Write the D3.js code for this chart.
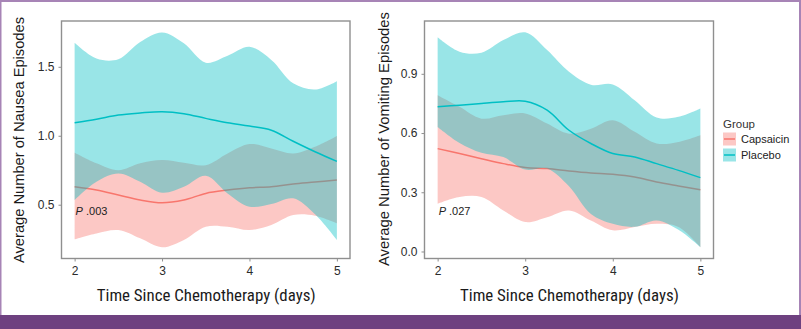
<!DOCTYPE html>
<html>
<head>
<meta charset="utf-8">
<script src="https://cdn.jsdelivr.net/npm/d3@7"></script>
<style>
  body { margin: 0; background: #fff; }
  svg { display: block; font-family: "Liberation Sans", Arial, sans-serif; }
</style>
</head>
<body>
<svg id="canvas"></svg>
<script>
// days on the x axis
const days = [2, 2.25, 2.5, 2.75, 3, 3.25, 3.5, 3.75, 4, 4.25, 4.5, 4.75, 5];

// nausea panel
const nauseaPlaceboMean = [1.094, 1.12, 1.15, 1.165, 1.174, 1.16, 1.126, 1.094, 1.07, 1.04, 0.96, 0.884, 0.814];
const nauseaPlaceboLow  = [0.534, 0.667, 0.727, 0.667, 0.587, 0.63, 0.71, 0.582, 0.486, 0.505, 0.546, 0.43, 0.244];
const nauseaPlaceboHigh = [1.674, 1.56, 1.555, 1.68, 1.749, 1.67, 1.53, 1.58, 1.645, 1.55, 1.38, 1.335, 1.396];
const nauseaCapsMean = [0.63, 0.606, 0.57, 0.534, 0.514, 0.534, 0.582, 0.606, 0.623, 0.63, 0.65, 0.664, 0.679];
const nauseaCapsLow  = [0.249, 0.292, 0.316, 0.256, 0.191, 0.244, 0.34, 0.34, 0.316, 0.353, 0.425, 0.42, 0.365];
const nauseaCapsHigh = [0.877, 0.8, 0.75, 0.8, 0.824, 0.804, 0.787, 0.872, 0.94, 0.908, 0.872, 0.92, 0.998];

// vomiting panel
const vomitPlaceboMean = [0.733, 0.741, 0.75, 0.758, 0.761, 0.716, 0.614, 0.547, 0.496, 0.479, 0.445, 0.411, 0.374];
const vomitPlaceboLow  = [0.631, 0.55, 0.5, 0.478, 0.415, 0.42, 0.33, 0.19, 0.14, 0.125, 0.157, 0.11, 0.022];
const vomitPlaceboHigh = [1.085, 1.012, 1.007, 1.071, 1.11, 1.02, 0.91, 0.845, 0.846, 0.766, 0.679, 0.682, 0.724];
const vomitCapsMean = [0.521, 0.496, 0.47, 0.445, 0.425, 0.42, 0.408, 0.398, 0.391, 0.377, 0.352, 0.332, 0.313];
const vomitCapsLow  = [0.242, 0.276, 0.276, 0.208, 0.149, 0.174, 0.208, 0.157, 0.107, 0.124, 0.14, 0.124, 0.022];
const vomitCapsHigh = [0.792, 0.733, 0.673, 0.69, 0.699, 0.648, 0.597, 0.622, 0.665, 0.606, 0.547, 0.555, 0.589];

const xTicks = [2, 3, 4, 5];
const nauseaTicks = [0.5, 1.0, 1.5];
const vomitTicks = [0.0, 0.3, 0.6, 0.9];
const groups = ["Capsaicin", "Placebo"];
const groupColors = {Capsaicin: "#F8766D", Placebo: "#00BFC4"};

const W = 801, H = 329;
const svg = d3.select("#canvas").attr("width", W).attr("height", H);

// purple frame + footer band
svg.append("rect").attr("x", 0.5).attr("y", 1).attr("width", W - 1.5).attr("height", 316)
  .attr("fill", "#fff").attr("stroke", "#a784b6").attr("stroke-width", 2);
svg.append("rect").attr("x", 0).attr("y", 315).attr("width", W).attr("height", H - 315)
  .attr("fill", "#6e4180");

function panel(opt) {
  const x = d3.scaleLinear().domain([1.85, 5.15]).range([opt.left, opt.right]);
  const y = d3.scaleLinear().domain(opt.yDomain).range([258.5, 21]);
  const g = svg.append("g");

  const series = [
    {name: "Capsaicin", mean: opt.caps[0], low: opt.caps[1], high: opt.caps[2]},
    {name: "Placebo", mean: opt.plac[0], low: opt.plac[1], high: opt.plac[2]}
  ];
  const curve = d3.curveCatmullRom.alpha(0.5);
  const area = d3.area().x(d => x(d.t)).y0(d => y(d.lo)).y1(d => y(d.hi)).curve(curve);
  const line = d3.line().x(d => x(d.t)).y(d => y(d.m)).curve(curve);

  series.forEach(s => {
    const pts = days.map((t, i) => ({t: t, m: s.mean[i], lo: s.low[i], hi: s.high[i]}));
    g.append("path").attr("d", area(pts)).attr("fill", groupColors[s.name]).attr("fill-opacity", 0.4);
    g.append("path").attr("d", line(pts)).attr("fill", "none")
      .attr("stroke", groupColors[s.name]).attr("stroke-width", 1.5);
  });

  // frame
  g.append("rect").attr("x", opt.left).attr("y", 21)
    .attr("width", opt.right - opt.left).attr("height", 237.5)
    .attr("fill", "none").attr("stroke", "#8f8f8f").attr("stroke-width", 1.4);

  const xAxis = g.append("g").attr("transform", "translate(0,258.5)")
    .call(d3.axisBottom(x).tickValues(xTicks).tickSize(3).tickPadding(5).tickFormat(d3.format("d")));
  const yAxis = g.append("g").attr("transform", `translate(${opt.left},0)`)
    .call(d3.axisLeft(y).tickValues(opt.ticks).tickSize(3).tickPadding(4).tickFormat(d3.format(".1f")));
  [xAxis, yAxis].forEach(a => {
    a.select(".domain").remove();
    a.selectAll("line").attr("stroke", "#8f8f8f");
    a.selectAll("text").attr("fill", "#2b2b2b").style("font-size", "12px")
      .style("font-family", "'Liberation Sans', Arial, sans-serif");
  });

  // p value
  const p = g.append("text").attr("x", x(2) + 1).attr("y", 214.5)
    .style("font-size", "11px").attr("fill", "#222");
  p.append("tspan").style("font-style", "italic").text("P");
  p.append("tspan").text(" " + opt.pval);

  // axis titles
  g.append("text").attr("x", (opt.left + opt.right) / 2 + 0.5).attr("y", 301)
    .attr("text-anchor", "middle").attr("fill", "#1a1a1a")
    .style("font-family", "'Liberation Sans Narrow', 'Roboto Condensed', Arial, sans-serif")
    .style("font-size", "17px")
    .attr("textLength", 219).attr("lengthAdjust", "spacingAndGlyphs")
    .text("Time Since Chemotherapy (days)");
  g.append("text").attr("transform", `translate(${opt.titleX},${opt.titleY}) rotate(-90)`)
    .attr("text-anchor", "middle").attr("fill", "#1a1a1a").style("font-size", "15px")
    .attr("textLength", opt.titleLen).attr("lengthAdjust", "spacingAndGlyphs")
    .text(opt.title);
}

panel({
  left: 61.5, right: 350, yDomain: [0.110, 1.832], ticks: nauseaTicks,
  caps: [nauseaCapsMean, nauseaCapsLow, nauseaCapsHigh],
  plac: [nauseaPlaceboMean, nauseaPlaceboLow, nauseaPlaceboHigh],
  pval: ".003", title: "Average Number of Nausea Episodes",
  titleX: 23.5, titleY: 140, titleLen: 246
});
panel({
  left: 424.5, right: 713.5, yDomain: [-0.0355, 1.1675], ticks: vomitTicks,
  caps: [vomitCapsMean, vomitCapsLow, vomitCapsHigh],
  plac: [vomitPlaceboMean, vomitPlaceboLow, vomitPlaceboHigh],
  pval: ".027", title: "Average Number of Vomiting Episodes",
  titleX: 388.5, titleY: 139, titleLen: 254
});

// legend
const legend = svg.append("g").attr("transform", "translate(722,0)");
legend.append("text").attr("x", 1).attr("y", 128).style("font-size", "11.5px")
  .attr("fill", "#333").text("Group");
groups.forEach((name, i) => {
  const cy = 139 + i * 16;
  legend.append("rect").attr("x", 1).attr("y", cy - 6.5).attr("width", 13).attr("height", 13)
    .attr("fill", groupColors[name]).attr("fill-opacity", 0.4);
  legend.append("line").attr("x1", 2).attr("x2", 13).attr("y1", cy).attr("y2", cy)
    .attr("stroke", groupColors[name]).attr("stroke-width", 1.5);
  legend.append("text").attr("x", 19).attr("y", cy + 4).style("font-size", "11px")
    .attr("fill", "#222").text(name);
});
</script>
</body>
</html>
